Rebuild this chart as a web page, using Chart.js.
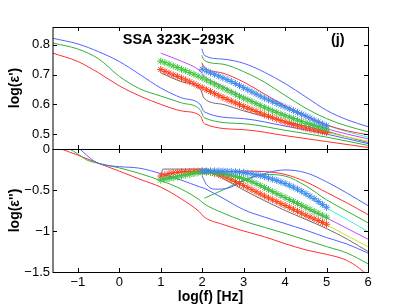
<!DOCTYPE html>
<html>
<head>
<meta charset="utf-8">
<script src="https://cdn.jsdelivr.net/npm/chart.js@4.4.1/dist/chart.umd.min.js"></script>
<style>
  html, body { margin: 0; padding: 0; background: #fff; }
  #wrap { position: relative; width: 407px; height: 306px; }
  canvas { position: absolute; left: 0; top: 0; }
</style>
</head>
<body>
<div id="wrap">
  <canvas id="epsBottom" width="407" height="306"></canvas>
  <canvas id="epsTop" width="407" height="306"></canvas>
</div>
<script>
// ---- axes ----
const X_TICKS = [-1, 0, 1, 2, 3, 4, 5, 6];
const TOP_Y_TICKS = [0.5, 0.6, 0.7, 0.8];
const BOT_Y_TICKS = [-1.5, -1, -0.5, 0];

// ---- measured data (stars), x = log(f) ----
const STAR_X_2 = [2.0, 2.1, 2.2, 2.3, 2.4, 2.5, 2.6, 2.7, 2.8, 2.9, 3.0, 3.1, 3.2, 3.3, 3.4, 3.5,
  3.6, 3.7, 3.8, 3.9, 4.0, 4.1, 4.2, 4.3, 4.4, 4.5, 4.6, 4.7, 4.8, 4.9, 5.0];
const STAR_X_1 = [1.0, 1.1, 1.2, 1.3, 1.4, 1.5, 1.6, 1.7, 1.8, 1.9, 2.0, 2.1, 2.2, 2.3, 2.4, 2.5,
  2.6, 2.7, 2.8, 2.9, 3.0, 3.1, 3.2, 3.3, 3.4, 3.5, 3.6, 3.7, 3.8, 3.9, 4.0, 4.1, 4.2, 4.3, 4.4,
  4.5, 4.6, 4.7, 4.8, 4.9, 5.0];

const TOP_BLUE_STARS = [.718, .712, .706, .701, .695, .689, .683, .677, .670, .663, .656, .649, .642,
  .635, .628, .621, .615, .609, .603, .597, .591, .585, .579, .573, .567, .561, .554, .547, .541, .534, .528];
const TOP_GREEN_STARS = [.745, .740, .735, .729, .724, .718, .713, .707, .701, .695, .689, .682, .675,
  .668, .661, .655, .648, .641, .634, .627, .621, .615, .609, .602, .596, .590, .584, .578, .573, .567,
  .562, .557, .552, .547, .542, .537, .533, .529, .525, .521, .517];
const TOP_RED_STARS = [.717, .711, .705, .699, .694, .688, .682, .676, .669, .662, .656, .649, .643,
  .636, .629, .623, .617, .611, .605, .599, .593, .587, .582, .576, .571, .565, .560, .555, .550, .545,
  .540, .536, .532, .528, .524, .520, .517, .514, .511, .508, .505];

const BOT_BLUE_STARS = [-.270, -.268, -.267, -.267, -.268, -.270, -.272, -.275, -.278, -.282, -.287,
  -.295, -.303, -.313, -.325, -.338, -.352, -.368, -.384, -.402, -.420, -.442, -.465, -.490, -.515,
  -.545, -.575, -.605, -.640, -.675, -.710];
const BOT_GREEN_STARS = [-.380, -.370, -.360, -.350, -.340, -.330, -.320, -.310, -.300, -.290, -.285,
  -.283, -.285, -.290, -.295, -.300, -.310, -.320, -.333, -.347, -.362, -.380, -.400, -.420, -.445,
  -.470, -.495, -.520, -.545, -.568, -.592, -.616, -.640, -.664, -.688, -.712, -.736, -.760, -.784,
  -.808, -.832];
const BOT_RED_STARS = [-.330, -.315, -.300, -.290, -.285, -.280, -.277, -.275, -.272, -.270, -.270,
  -.275, -.285, -.298, -.313, -.330, -.352, -.375, -.398, -.422, -.447, -.472, -.497, -.522, -.548,
  -.573, -.597, -.620, -.643, -.666, -.689, -.712, -.736, -.760, -.784, -.808, -.830, -.852, -.874,
  -.896, -.918];

// ---- fitted curves, [log(f), value] ----
const TOP_BLUE_LOW = [[-1.6, .822], [-1, .803], [-0.5, .777], [0, .744], [0.5, .700], [1, .655],
  [1.5, .622], [1.95, .600], [2.05, .575], [3, .552], [4, .527], [5, .500], [6, .468]];
const TOP_GREEN_LOW = [[-1.6, .806], [-1, .786], [-0.5, .753], [0, .694], [0.5, .652], [1, .628],
  [1.5, .605], [1.95, .582], [2.05, .555], [3, .535], [4, .513], [5, .490], [6, .462]];
const TOP_RED_LOW = [[-1.6, .772], [-1, .744], [-0.5, .706], [0, .662], [0.5, .628], [1, .600],
  [1.5, .578], [1.95, .562], [2.05, .535], [3, .515], [4, .495], [5, .475], [6, .455]];
const TOP_BLUE_HIGH = [[1.99, .787], [2.05, .765], [2.5, .752], [3, .738], [3.5, .708], [4, .670],
  [4.5, .625], [5, .580], [5.5, .548], [6, .525]];
const TOP_GREEN_HIGH = [[1.99, .765], [2.05, .748], [2.5, .735], [3, .710], [3.5, .675], [4, .630],
  [4.5, .587], [5, .552], [5.5, .527], [6, .508]];
const TOP_RED_HIGH = [[1.99, .740], [2.05, .725], [2.5, .705], [3, .675], [3.5, .635], [4, .595],
  [4.5, .560], [5, .531], [5.5, .511], [6, .498]];
const TOP_CYAN = [[2.0, .735], [2.1, .715], [2.5, .690], [3, .655], [3.5, .622], [4, .590],
  [4.5, .560], [5, .530], [5.5, .508], [6, .490]];
const TOP_PURPLE = [[1, .772], [1.5, .745], [1.95, .712], [2.05, .695], [2.5, .660], [3, .625],
  [3.5, .593], [4, .565], [4.5, .540], [5, .518], [5.5, .500], [6, .484]];
const TOP_YELLOW = [[2.05, .655], [2.5, .625], [3, .595], [3.5, .567], [4, .542], [4.5, .522],
  [5, .505], [5.5, .490], [6, .477]];
const TOP_GRAY = [[1, .706], [1.5, .676], [1.95, .652], [2.05, .620], [2.5, .600], [3, .578],
  [3.5, .560], [4, .543], [4.5, .527], [5, .510], [5.5, .490], [6, .472]];

const BOT_BLUE_LOW = [[-0.95, 0], [-0.8, -.07], [-0.6, -.15], [-0.4, -.19], [0, -.215], [0.5, -.235],
  [1, -.30], [1.5, -.38], [1.93, -.46], [2.05, -.48], [2.5, -.60], [3, -.74], [3.5, -.83], [4, -.91],
  [4.5, -.99], [5, -1.08], [5.5, -1.16], [6, -1.27]];
const BOT_GREEN_LOW = [[-1.2, 0], [-1, -.06], [-0.8, -.13], [-0.5, -.175], [0, -.23], [0.5, -.30],
  [1, -.385], [1.5, -.49], [1.93, -.62], [2.05, -.67], [2.5, -.78], [3, -.88], [3.5, -.955],
  [4, -1.03], [4.5, -1.11], [5, -1.19], [5.5, -1.27], [6, -1.40]];
const BOT_RED_LOW = [[-1.4, 0], [-1, -.075], [-0.5, -.175], [0, -.27], [0.5, -.37], [1, -.465],
  [1.5, -.61], [1.93, -.765], [2.05, -.83], [2.5, -.92], [3, -1.0], [3.5, -1.07], [4, -1.155],
  [4.5, -1.23], [5, -1.285], [5.4, -1.34], [5.7, -1.42], [5.9, -1.5]];
const BOT_BLUE_HIGH = [[2.0, -.33], [2.1, -.43], [2.3, -.49], [2.6, -.48], [3, -.39], [3.5, -.30],
  [4, -.255], [4.5, -.29], [5, -.40], [5.5, -.54], [6, -.69]];
const BOT_RED_HIGH = [[2.0, -.30], [2.5, -.28], [3, -.27], [3.5, -.275], [4, -.31], [4.5, -.40],
  [5, -.53], [5.5, -.66], [6, -.80]];
const BOT_GREEN_HIGH = [[2.05, -.60], [2.5, -.50], [3, -.38], [3.5, -.31], [4, -.33], [4.5, -.45],
  [5, -.62], [5.5, -.76], [6, -.90]];
const BOT_CYAN = [[2, -.28], [2.5, -.275], [3, -.29], [3.5, -.345], [4, -.44], [4.5, -.565],
  [5, -.72], [5.5, -.86], [6, -1.01]];
const BOT_PURPLE = [[1, -.37], [1.5, -.32], [2, -.29], [2.5, -.305], [3, -.365], [3.5, -.475],
  [4, -.60], [4.5, -.72], [5, -.84], [5.5, -.97], [6, -1.10]];
const BOT_YELLOW = [[1, -.32], [1.5, -.28], [2, -.275], [2.5, -.335], [3, -.455], [3.5, -.58],
  [4, -.695], [4.5, -.815], [5, -.925], [5.5, -1.06], [6, -1.19]];
const BOT_GRAY = [[1, -.35], [1.05, -.245], [2.1, -.245], [2.4, -.33], [3, -.50], [3.5, -.63],
  [4, -.75], [4.5, -.86], [5, -.97], [5.5, -1.10], [6, -1.25]];

const C = {
  blue: "#5064ff", green: "#34b034", red: "#ff3030",
  cyan: "#3cf0d0", purple: "#c048ff", yellow: "#cfe030", gray: "#6e6e6e",
  blueStar: "#3f86ee", greenStar: "#3cc43c", redStar: "#ff3c1e",
};

Chart.defaults.font.family = '"Liberation Sans", Arial, sans-serif';
Chart.defaults.font.size = 13;
Chart.defaults.color = "#000";

const TICK = 4;
const fmt = (v) => String(v).replace("-", "\u2212");

const line = (data, color) => ({
  data, borderColor: color, borderWidth: 1, pointRadius: 0, fill: false,
  cubicInterpolationMode: "monotone", order: 2,
});
const stars = (xs, ys, color) => ({
  data: xs.map((x, i) => ({ x, y: ys[i] })), showLine: false,
  pointStyle: "star", pointRadius: 3.5, pointBorderWidth: 1,
  borderColor: color, backgroundColor: color, order: 1,
});

// box and inward ticks, MATLAB style
const frame = {
  id: "frame",
  afterDatasetsDraw(chart) {
    const { ctx, chartArea: a, scales: { x, y } } = chart;
    ctx.save();
    ctx.strokeStyle = "#000";
    ctx.lineWidth = 1;
    ctx.beginPath();
    x.ticks.forEach((t) => {
      const px = Math.round(x.getPixelForValue(t.value)) + 0.5;
      ctx.moveTo(px, a.bottom); ctx.lineTo(px, a.bottom - TICK);
      ctx.moveTo(px, a.top); ctx.lineTo(px, a.top + TICK);
    });
    y.ticks.forEach((t) => {
      const py = Math.round(y.getPixelForValue(t.value)) + 0.5;
      ctx.moveTo(a.left, py); ctx.lineTo(a.left + TICK, py);
      ctx.moveTo(a.right, py); ctx.lineTo(a.right - TICK, py);
    });
    ctx.moveTo(a.left, a.top + 0.5); ctx.lineTo(a.right + 1, a.top + 0.5);
    ctx.moveTo(a.left, a.bottom + 0.5); ctx.lineTo(a.right + 1, a.bottom + 0.5);
    ctx.moveTo(a.right + 0.5, a.top); ctx.lineTo(a.right + 0.5, a.bottom + 1);
    ctx.moveTo(a.left, a.top); ctx.lineTo(a.left, a.bottom + 1);
    ctx.stroke();
    ctx.restore();
  },
};

// in-plot annotations, positioned in data coordinates
const notes = {
  id: "notes",
  afterDraw(chart, args, opts) {
    if (!opts.items) return;
    const { ctx, scales: { x, y } } = chart;
    ctx.save();
    ctx.fillStyle = "#000";
    ctx.font = 'bold 14.5px "Liberation Sans", Arial, sans-serif';
    ctx.textAlign = "center";
    ctx.textBaseline = "alphabetic";
    opts.items.forEach((it) => ctx.fillText(it.text, x.getPixelForValue(it.x), y.getPixelForValue(it.y)));
    ctx.restore();
  },
};

function options({ yMin, yMax, yTicks, yTitle, top, xHeight, showX, items }) {
  return {
    responsive: false,
    animation: false,
    devicePixelRatio: 1,
    layout: { padding: { top, right: 39, left: 0, bottom: 0 } },
    plugins: { legend: { display: false }, tooltip: { enabled: false }, notes: { items } },
    scales: {
      x: {
        type: "linear", min: -1.6, max: 6,
        afterBuildTicks: (s) => { s.ticks = X_TICKS.map((v) => ({ value: v })); },
        afterFit: (s) => { s.height = xHeight; },
        grid: { display: false, drawTicks: false },
        border: { display: false },
        ticks: { display: showX, padding: 3, callback: fmt, maxRotation: 0 },
        title: {
          display: showX, text: "log(f) [Hz]", padding: { top: 0, bottom: 0 },
          font: { size: 14, weight: "bold" },
        },
      },
      y: {
        min: yMin, max: yMax,
        afterBuildTicks: (s) => { s.ticks = yTicks.map((v) => ({ value: v })); },
        afterFit: (s) => { s.width = 53; },
        grid: { display: false, drawTicks: false },
        border: { display: false },
        ticks: { padding: 3, callback: fmt },
        title: {
          display: true, text: yTitle, padding: { top: 7, bottom: 0 },
          font: { size: 14, weight: "bold" },
        },
      },
    },
  };
}

new Chart(document.getElementById("epsTop"), {
  type: "line",
  data: {
    datasets: [
      stars(STAR_X_2, TOP_BLUE_STARS, C.blueStar),
      stars(STAR_X_1, TOP_GREEN_STARS, C.greenStar),
      stars(STAR_X_1, TOP_RED_STARS, C.redStar),
      line(TOP_BLUE_LOW, C.blue), line(TOP_GREEN_LOW, C.green), line(TOP_RED_LOW, C.red),
      line(TOP_BLUE_HIGH, C.blue), line(TOP_GREEN_HIGH, C.green), line(TOP_RED_HIGH, C.red),
      line(TOP_CYAN, C.cyan), line(TOP_PURPLE, C.purple), line(TOP_YELLOW, C.yellow),
      line(TOP_GRAY, C.gray),
    ],
  },
  options: options({
    yMin: 0.45, yMax: 0.86, yTicks: TOP_Y_TICKS, yTitle: "log(\u03b5')",
    top: 27, xHeight: 157, showX: false,
    items: [{ text: "SSA 323K\u2212293K", x: 1.43, y: 0.803 }, { text: "(j)", x: 5.27, y: 0.803 }],
  }),
  plugins: [frame, notes],
});

new Chart(document.getElementById("epsBottom"), {
  type: "line",
  data: {
    datasets: [
      stars(STAR_X_2, BOT_BLUE_STARS, C.blueStar),
      stars(STAR_X_1, BOT_GREEN_STARS, C.greenStar),
      stars(STAR_X_1, BOT_RED_STARS, C.redStar),
      line(BOT_BLUE_LOW, C.blue), line(BOT_GREEN_LOW, C.green), line(BOT_RED_LOW, C.red),
      line(BOT_BLUE_HIGH, C.blue), line(BOT_GREEN_HIGH, C.green), line(BOT_RED_HIGH, C.red),
      line(BOT_CYAN, C.cyan), line(BOT_PURPLE, C.purple), line(BOT_YELLOW, C.yellow),
      line(BOT_GRAY, C.gray),
    ],
  },
  options: options({
    yMin: -1.5, yMax: 0, yTicks: BOT_Y_TICKS, yTitle: "log(\u03b5'')",
    top: 149, xHeight: 34, showX: true,
  }),
  plugins: [frame, notes],
});
</script>
</body>
</html>
